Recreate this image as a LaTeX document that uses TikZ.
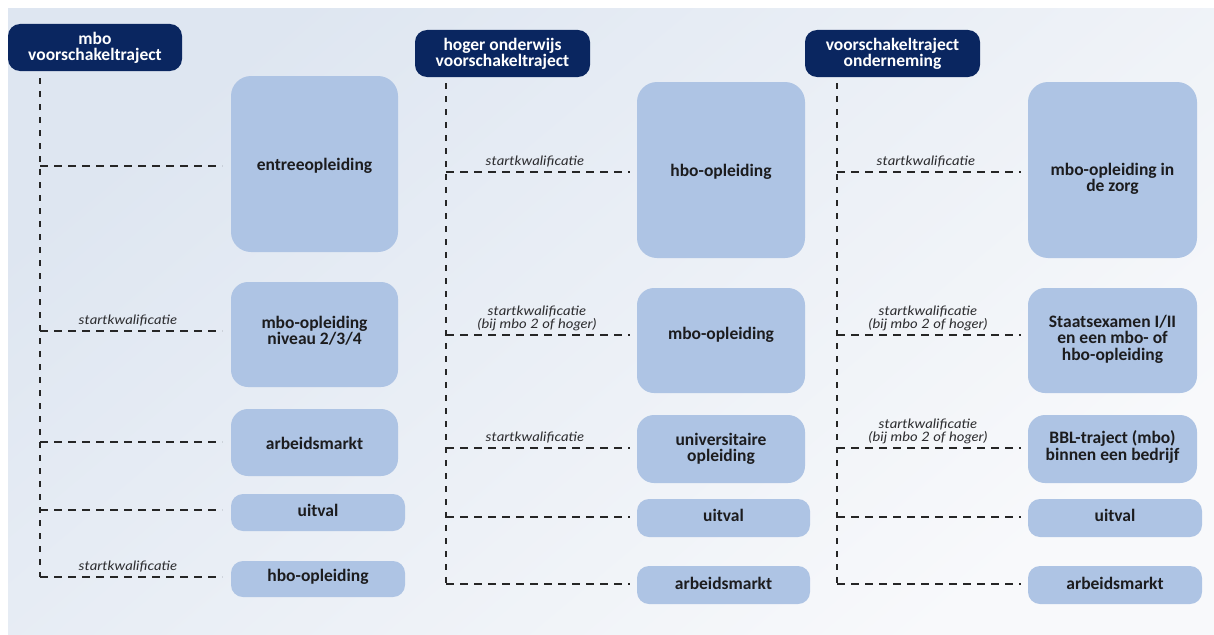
\documentclass[tikz,border=0pt]{standalone}
\usepackage{fontspec}
\setmainfont{Carlito}
\newfontfamily\labfont[FakeStretch=1.14]{Lato}
\definecolor{navy}{RGB}{10,38,96}
\definecolor{boxc}{RGB}{174,196,228}
\definecolor{ink}{RGB}{28,28,30}
\definecolor{labc}{RGB}{45,45,48}
\definecolor{dashc}{RGB}{38,38,38}
\definecolor{bgA}{RGB}{222,230,241}
\definecolor{bgB}{RGB}{248,249,251}
\begin{document}
\begin{tikzpicture}[x=1pt,y=-1pt,
  hdr/.style={fill=navy, rounded corners=12pt, text=white, font=\bfseries\fontsize{17.5}{16}\selectfont, align=center, inner sep=0pt, minimum width=175pt, minimum height=47pt},
  bigbox/.style={fill=boxc, rounded corners=20pt, inner sep=0pt},
  midbox/.style={fill=boxc, rounded corners=17pt, inner sep=0pt},
  smallbox/.style={fill=boxc, rounded corners=12pt, inner sep=0pt},
  txt/.style={font=\bfseries\fontsize{17.5}{16.5}\selectfont, text=ink, align=center, inner sep=0pt},
  lab/.style={font=\labfont\itshape\fontsize{13}{12.5}\selectfont, text=labc, align=center, inner sep=0pt, anchor=south},
  hconn/.style={draw=dashc, line width=2.3pt, dash pattern=on 8pt off 6pt},
  vconn/.style={draw=dashc, line width=2pt, dash pattern=on 6pt off 7pt}
]
\useasboundingbox (0,0) rectangle (1214,634);
\shade[top color=bgA, bottom color=bgB, shading angle=40] (8,9) rectangle (1214,634);

% ---------------- column 1
\node[hdr, minimum width=174pt] (h1) at (95,47.5) {mbo\\voorschakeltraject};
\node[bigbox, minimum width=167pt, minimum height=176pt] (b11) at (314.5,164) {};
\node[midbox, minimum width=167pt, minimum height=105pt] (b12) at (314.5,334.5) {};
\node[midbox, minimum width=167pt, minimum height=67pt] (b13) at (314.5,442.5) {};
\node[smallbox, minimum width=174pt, minimum height=37pt] (b14) at (318,512.5) {};
\node[smallbox, minimum width=174pt, minimum height=36pt] (b15) at (318,579) {};
\node[txt] (t11) at (314.5,166) {entreeopleiding};
\node[txt] (t12) at (314.5,331) {mbo-opleiding\\niveau 2/3/4};
\node[txt] (t13) at (314.5,443) {arbeidsmarkt};
\node[txt] (t14) at (318,510) {uitval};
\node[txt] (t15) at (318,577) {hbo-opleiding};
\coordinate (v1) at (40,78);
\coordinate (e11) at (222,166);
\coordinate (e12) at (222,331);
\coordinate (e13) at (222,442);
\coordinate (e14) at (222,510);
\coordinate (e15) at (222,577);
\draw[vconn] (v1) -- (v1 |- e15);
\draw[hconn] (v1 |- e11) -- (e11);
\draw[hconn] (v1 |- e12) -- (e12);
\draw[hconn] (v1 |- e13) -- (e13);
\draw[hconn] (v1 |- e14) -- (e14);
\draw[hconn] (v1 |- e15) -- (e15);
\node[lab] (l12) at (128,326) {startkwalificatie};
\node[lab] (l15) at (128,572) {startkwalificatie};

% ---------------- column 2
\node[hdr] (h2) at (502.5,53.5) {hoger onderwijs\\voorschakeltraject};
\node[bigbox, minimum width=168pt, minimum height=176pt] (b21) at (721,170) {};
\node[midbox, minimum width=168pt, minimum height=105pt] (b22) at (721,340.5) {};
\node[midbox, minimum width=168pt, minimum height=68pt] (b23) at (721,449) {};
\node[smallbox, minimum width=173pt, minimum height=38pt] (b24) at (723.5,518) {};
\node[smallbox, minimum width=173pt, minimum height=38pt] (b25) at (723.5,585) {};
\node[txt] (t21) at (721,172) {hbo-opleiding};
\node[txt] (t22) at (721,335) {mbo-opleiding};
\node[txt] (t23) at (721,449) {universitaire\\opleiding};
\node[txt] (t24) at (723.5,515) {uitval};
\node[txt] (t25) at (723.5,583) {arbeidsmarkt};
\coordinate (v2) at (446,83);
\coordinate (e21) at (630,172);
\coordinate (e22) at (630,335);
\coordinate (e23) at (630,448);
\coordinate (e24) at (630,517);
\coordinate (e25) at (630,584);
\draw[vconn] (v2) -- (v2 |- e25);
\draw[hconn] (v2 |- e21) -- (e21);
\draw[hconn] (v2 |- e22) -- (e22);
\draw[hconn] (v2 |- e23) -- (e23);
\draw[hconn] (v2 |- e24) -- (e24);
\draw[hconn] (v2 |- e25) -- (e25);
\node[lab] (l21) at (535,167) {startkwalificatie};
\node[lab] (l22) at (537,331) {startkwalificatie\\(bij mbo 2 of hoger)};
\node[lab] (l23) at (535,443) {startkwalificatie};

% ---------------- column 3
\node[hdr] (h3) at (892.5,53.5) {voorschakeltraject\\onderneming};
\node[bigbox, minimum width=169pt, minimum height=176pt] (b31) at (1112.5,170) {};
\node[midbox, minimum width=169pt, minimum height=105pt] (b32) at (1112.5,340.5) {};
\node[midbox, minimum width=169pt, minimum height=68pt] (b33) at (1112.5,449) {};
\node[smallbox, minimum width=174pt, minimum height=38pt] (b34) at (1115,518) {};
\node[smallbox, minimum width=174pt, minimum height=38pt] (b35) at (1115,585) {};
\node[txt] (t31) at (1112.5,179) {mbo-opleiding in\\de zorg};
\node[txt] (t32) at (1112.5,339) {Staatsexamen I/II\\en een mbo- of\\hbo-opleiding};
\node[txt] (t33) at (1112.5,447) {BBL-traject (mbo)\\binnen een bedrijf};
\node[txt] (t34) at (1115,515) {uitval};
\node[txt] (t35) at (1115,583) {arbeidsmarkt};
\coordinate (v3) at (837,83);
\coordinate (e31) at (1021,172);
\coordinate (e32) at (1021,335);
\coordinate (e33) at (1021,448);
\coordinate (e34) at (1021,517);
\coordinate (e35) at (1021,584);
\draw[vconn] (v3) -- (v3 |- e35);
\draw[hconn] (v3 |- e31) -- (e31);
\draw[hconn] (v3 |- e32) -- (e32);
\draw[hconn] (v3 |- e33) -- (e33);
\draw[hconn] (v3 |- e34) -- (e34);
\draw[hconn] (v3 |- e35) -- (e35);
\node[lab] (l31) at (926,167) {startkwalificatie};
\node[lab] (l32) at (928,331) {startkwalificatie\\(bij mbo 2 of hoger)};
\node[lab] (l33) at (928,444) {startkwalificatie\\(bij mbo 2 of hoger)};
\end{tikzpicture}
\end{document}
